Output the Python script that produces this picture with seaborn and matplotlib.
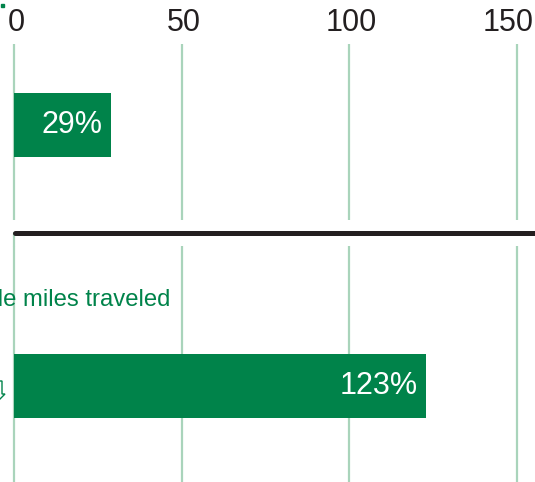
import numpy as np
import pandas as pd
import seaborn as sns
import matplotlib.pyplot as plt
from matplotlib.lines import Line2D
from matplotlib.patches import Polygon, Rectangle
from matplotlib.transforms import ScaledTranslation

# values
top_label = ["transit"]
top_value = [29]
bottom_label = ["vehicle miles traveled"]
bottom_value = [123]
ticks = [0, 50, 100, 150]

green = "#00834a"
grid_green = "#a9d4bb"
ink = "#231f20"

sns.set_theme(style="white")
plt.rcParams["font.family"] = ["Liberation Sans", "DejaVu Sans"]

W, H = 535, 482
fig = plt.figure(figsize=(W / 100, H / 100), dpi=100)


def px_box(top, bottom):
    return [0, 1 - bottom / H, 1, (bottom - top) / H]


ax1 = fig.add_axes(px_box(44, 220))
ax2 = fig.add_axes(px_box(246, 482))

sns.barplot(x=top_value, y=top_label, ax=ax1, color=green, saturation=1,
            width=0.64, linewidth=0, orient="h")
sns.barplot(x=bottom_value, y=bottom_label, ax=ax2, color=green, saturation=1,
            width=0.64, linewidth=0, orient="h")

ax1.set_ylim(0.95, -0.81)
ax2.set_ylim(0.96, -1.40)

for ax, vals in [(ax1, top_value), (ax2, bottom_value)]:
    ax.set_xlim(-4.175, 155.4)
    ax.set_xticks(ticks)
    ax.grid(axis="x", color=grid_green, lw=1.6)
    ax.grid(axis="y", visible=False)
    ax.set_axisbelow(True)
    ax.set_yticks([])
    ax.set_ylabel("")
    ax.set_xlabel("")
    sns.despine(ax=ax, left=True, bottom=True)
    ax.patch.set_alpha(0)
    for v in vals:
        ax.annotate(f"{v}%", xy=(v, 0), xytext=(-6, 0), textcoords="offset points",
                    ha="right", va="center", color="white", fontsize=22)

ax1.xaxis.tick_top()
ax1.tick_params(axis="x", length=0, pad=4, labelsize=22, labelcolor=ink)
ax2.tick_params(axis="x", length=0, labelbottom=False)

# nudge tick labels the way they sit in the picture (last one kept inside)
shifts = [2, 2, 2, -9]
for lab, dx in zip(ax1.get_xticklabels(), shifts):
    lab.set_transform(lab.get_transform() + ScaledTranslation(dx / 100, 0, fig.dpi_scale_trans))

# zero gridline runs up to the divider
ax2.axvline(0, ymin=1, ymax=1 + 13 / 236, clip_on=False, color=grid_green, lw=1.6)

ax2.text(46.5, -0.86, bottom_label[0], ha="right", va="center",
         color=green, fontsize=17.2)

# divider
fig.add_artist(Line2D([15 / W, 1], [1 - 233 / H] * 2, color=ink, lw=3.6))

# leftovers at the cropped edge
fig.add_artist(Rectangle((1 / W, 1 - 7 / H), 3 / W, 3 / H,
                         transform=fig.transFigure, color=green))
arrow_px = [(-18, 381), (2, 381), (2, 394), (5, 394), (-8, 407), (-21, 394), (-18, 394)]
fig.add_artist(Polygon([(x / W, 1 - y / H) for x, y in arrow_px], closed=True,
                       transform=fig.transFigure, facecolor="white",
                       edgecolor=green, lw=1))

fig.savefig("out.png", dpi=100)
